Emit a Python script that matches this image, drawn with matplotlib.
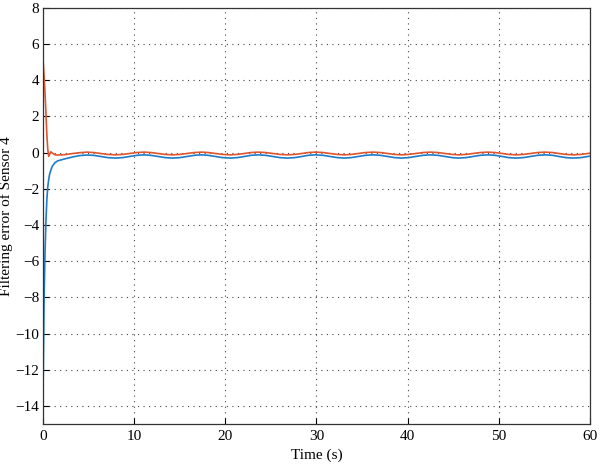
import matplotlib
matplotlib.use('Agg')
from matplotlib import pyplot as plt

# time samples (s)
t = [0.0, 0.1, 0.2, 0.3, 0.4, 0.5, 0.6, 0.7, 0.85, 1.0, 1.3,
     1.6, 2.4, 3.2, 4.0, 4.8, 5.5, 6.3, 7.1, 7.9, 8.7, 9.5, 10.3,
     11.1, 11.8, 12.6, 13.4, 14.2, 15.0, 15.8, 16.6, 17.4, 18.1, 18.9,
     19.7, 20.5, 21.3, 22.1, 22.8, 23.6, 24.4, 25.2, 26.0, 26.8, 27.6,
     28.4, 29.1, 29.9, 30.7, 31.5, 32.3, 33.1, 33.8, 34.6, 35.4, 36.2,
     37.0, 37.8, 38.6, 39.3, 40.1, 40.9, 41.7, 42.5, 43.3, 44.1, 44.9,
     45.6, 46.4, 47.2, 48.0, 48.8, 49.6, 50.4, 51.1, 51.9, 52.7, 53.5,
     54.3, 55.1, 55.9, 56.6, 57.4, 58.2, 59.0, 59.8, 60.0]

# red curve
err_a = [5.0, 4.2, 3.3, 2.2, 1.0, 0.2, -0.2, -0.1, 0.05, -0.02, -0.12,
         -0.13, -0.11, -0.05, 0.0, 0.03, 0.008, -0.045, -0.098,
         -0.12, -0.098, -0.045, 0.008, 0.03, 0.008, -0.045, -0.098,
         -0.12, -0.098, -0.045, 0.008, 0.03, 0.008, -0.045, -0.098,
         -0.12, -0.098, -0.045, 0.008, 0.03, 0.008, -0.045, -0.098,
         -0.12, -0.098, -0.045, 0.008, 0.03, 0.008, -0.045, -0.098,
         -0.12, -0.098, -0.045, 0.008, 0.03, 0.008, -0.045, -0.098,
         -0.12, -0.098, -0.045, 0.008, 0.03, 0.008, -0.045, -0.098,
         -0.12, -0.098, -0.045, 0.008, 0.03, 0.008, -0.045, -0.098,
         -0.12, -0.098, -0.045, 0.008, 0.03, 0.008, -0.045, -0.098,
         -0.12, -0.098, -0.045, -0.03]

# blue curve
err_b = [-12.5, -8.0, -5.5, -3.8, -2.6, -1.9, -1.5, -1.2, -0.95, -0.75, -0.55,
         -0.45, -0.34, -0.24, -0.16, -0.13, -0.146, -0.21, -0.274,
         -0.30, -0.274, -0.21, -0.146, -0.12, -0.146, -0.21, -0.274,
         -0.30, -0.274, -0.21, -0.146, -0.12, -0.146, -0.21, -0.274,
         -0.30, -0.274, -0.21, -0.146, -0.12, -0.146, -0.21, -0.274,
         -0.30, -0.274, -0.21, -0.146, -0.12, -0.146, -0.21, -0.274,
         -0.30, -0.274, -0.21, -0.146, -0.12, -0.146, -0.21, -0.274,
         -0.30, -0.274, -0.21, -0.146, -0.12, -0.146, -0.21, -0.274,
         -0.30, -0.274, -0.21, -0.146, -0.12, -0.146, -0.21, -0.274,
         -0.30, -0.274, -0.21, -0.146, -0.12, -0.146, -0.21, -0.274,
         -0.30, -0.274, -0.21, -0.19]

x_ticks = [0, 10, 20, 30, 40, 50, 60]
y_ticks = [-14, -12, -10, -8, -6, -4, -2, 0, 2, 4, 6, 8]

plt.rcParams['font.family'] = ['Liberation Serif', 'DejaVu Serif']
plt.rcParams['axes.unicode_minus'] = True

fig = plt.figure(figsize=(6, 4.67), dpi=100)
ax = fig.add_axes([0.072, 0.092, 0.911, 0.891])

ax.plot(t, err_b, color='#1F7BC8', lw=1.2)
ax.plot(t, err_a, color='#E0552E', lw=1.2)

ax.set_xlim(0, 60)
ax.set_ylim(-15, 8)
ax.set_xticks(x_ticks)
ax.set_yticks(y_ticks)
ax.tick_params(direction='in', length=4, width=0.8, labelsize=11, pad=4)
ax.tick_params(axis='y', pad=3)
ax.grid(True, linestyle=(0, (1, 4)), color='#444444', linewidth=0.8)

for s in ax.spines.values():
    s.set_linewidth(0.9)
    s.set_color('#333333')

ax.set_xlabel('Time (s)', fontsize=11)
ax.set_ylabel('Filtering error of Sensor 4', fontsize=11)
ax.yaxis.set_label_coords(-0.056, 0.5)

fig.savefig('out.png', dpi=100)
